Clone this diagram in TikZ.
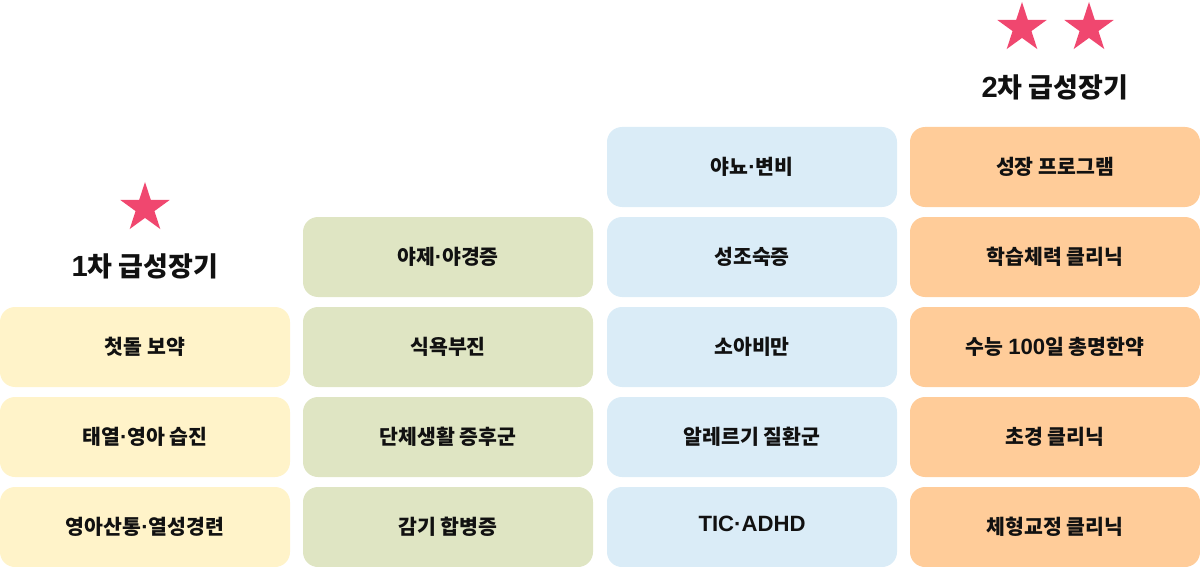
\documentclass[tikz,border=0pt]{standalone}
\usepackage{fontspec}
\setmainfont{Noto Sans CJK KR}
\newfontfamily\lat{Liberation Sans Bold}[Scale=1.08]
\newcommand{\md}{{\lat ·}}
\usetikzlibrary{shapes.geometric}
\definecolor{cyel}{HTML}{FFF3C9}
\definecolor{cgrn}{HTML}{DFE5C3}
\definecolor{cblu}{HTML}{DAECF7}
\definecolor{corg}{HTML}{FFCC99}
\definecolor{cstar}{HTML}{F0476F}
\definecolor{ctxt}{HTML}{111111}
\tikzset{
  box/.style={rounded corners=15pt, minimum width=290pt, minimum height=80pt, inner sep=0pt, text=ctxt, font=\fontsize{20.5}{24}\selectfont\bfseries},
  yb/.style={box, fill=cyel},
  gb/.style={box, fill=cgrn},
  bb/.style={box, fill=cblu},
  ob/.style={box, fill=corg},
  pstar/.style={star, star points=5, star point ratio=2.618, fill=cstar, inner sep=0pt, minimum size=52pt},
  title/.style={text=ctxt, font=\fontsize{27}{32}\selectfont\bfseries, inner sep=0pt}
}
\begin{document}
\begin{tikzpicture}[x=1pt,y=-1pt]
\useasboundingbox (0,0) rectangle (1200,567);
% column 1
\node[pstar] (s1) at (145,208) {};
\node[title] (t1) at (145,266) {{\lat 1}차 급성장기};
\node[yb] (a1) at (145,347) {첫돌 보약};
\node[yb] (a2) at (145,437) {태열\md 영아 습진};
\node[yb] (a3) at (145,527) {영아산통\md 열성경련};
% column 2
\node[gb] (b1) at (448,257) {야제\md 야경증};
\node[gb] (b2) at (448,347) {식욕부진};
\node[gb] (b3) at (448,437) {단체생활 증후군};
\node[gb] (b4) at (448,527) {감기 합병증};
% column 3
\node[bb] (c1) at (752,167) {야뇨\md 변비};
\node[bb] (c2) at (752,257) {성조숙증};
\node[bb] (c3) at (752,347) {소아비만};
\node[bb] (c4) at (752,437) {알레르기 질환군};
\node[bb] (c5) at (752,527) {\raisebox{7pt}{\lat TIC·ADHD}};
% column 4
\node[pstar] (s2) at (1022,28) {};
\node[pstar] (s3) at (1089,28) {};
\node[title] (t2) at (1055,87) {{\lat 2}차 급성장기};
\node[ob] (d1) at (1055,167) {성장 프로그램};
\node[ob] (d2) at (1055,257) {학습체력 클리닉};
\node[ob] (d3) at (1055,347) {수능 {\lat 100}일 총명한약};
\node[ob] (d4) at (1055,437) {초경 클리닉};
\node[ob] (d5) at (1055,527) {체형교정 클리닉};
\end{tikzpicture}
\end{document}
